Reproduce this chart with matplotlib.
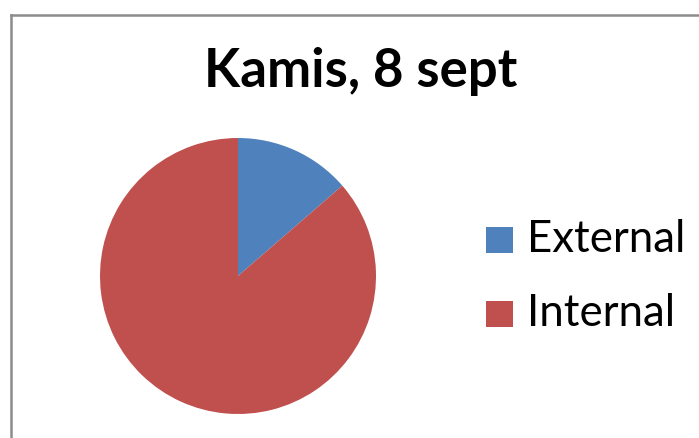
import matplotlib
matplotlib.use("Agg")
import matplotlib.pyplot as plt
from matplotlib.patches import Rectangle
from matplotlib.lines import Line2D

title = "Kamis, 8 sept"
labels = ["External", "Internal"]
values = [3, 19]
colors = ["#4F81BD", "#C0504D"]

W, H = 699, 438
fig = plt.figure(figsize=(W / 100, H / 100), dpi=100)

# chart border
fig.add_artist(Line2D([10.5 / W, 10.5 / W], [0, 1 - 15 / H], color="#8c8c8c", lw=1.8, transform=fig.transFigure))
fig.add_artist(Line2D([10.5 / W, 1], [1 - 15 / H, 1 - 15 / H], color="#8c8c8c", lw=1.8, transform=fig.transFigure))

cx, cy, r = 238, 276, 138
ax = fig.add_axes([(cx - r) / W, (H - cy - r) / H, 2 * r / W, 2 * r / H])
ax.pie(values, colors=colors, startangle=90, counterclock=False, radius=1,
       wedgeprops=dict(linewidth=0))
ax.set_xlim(-1, 1)
ax.set_ylim(-1, 1)
ax.set_aspect("equal")
ax.axis("off")

fig.text(361 / W, 1 - 72 / H, title, ha="center", va="center",
         fontsize=38, fontweight="bold", family="Lato")

# legend
ys = [240, 314]
for lab, col, y in zip(labels, colors, ys):
    fig.add_artist(Rectangle((486 / W, 1 - (y + 13) / H), 27 / W, 26 / H,
                             facecolor=col, edgecolor="none", transform=fig.transFigure))
    fig.text(527 / W, 1 - y / H, lab, ha="left", va="center",
             fontsize=31.5, family="Lato")

fig.savefig("out.png", dpi=100)
